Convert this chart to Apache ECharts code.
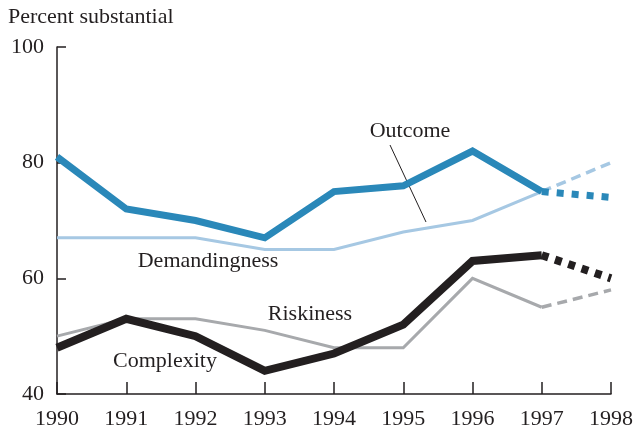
<!DOCTYPE html>
<html>
<head>
<meta charset="utf-8">
<script src="https://cdn.jsdelivr.net/npm/echarts@6/dist/echarts.min.js"></script>
<style>
  html, body { margin: 0; padding: 0; background: #fff; }
  #main { width: 636px; height: 430px; }
</style>
</head>
<body>
<div id="main"></div>
<script>
  // data
  var years = ['1990', '1991', '1992', '1993', '1994', '1995', '1996', '1997', '1998'];
  var outcome        = [81, 72, 70, 67, 75, 76, 82, 75, 74];
  var demandingness  = [67, 67, 67, 65, 65, 68, 70, 75, 80];
  var riskiness      = [50, 53, 53, 51, 48, 48, 60, 55, 58];
  var complexity     = [48, 53, 50, 44, 47, 52, 63, 64, 60];
  var yTicks = [40, 60, 80, 100];

  var FONT = 'Liberation Serif';
  var FS = 22;
  var INK = '#231f20';

  // 1990-1997 solid, 1997-1998 projected (dotted / dashed)
  function solidPart(arr) {
    return arr.map(function (v, i) { return i <= 7 ? v : null; });
  }
  function projPart(arr) {
    return arr.map(function (v, i) { return i >= 7 ? v : null; });
  }

  function line(name, data, color, width, dash, z) {
    return {
      name: name,
      type: 'line',
      data: data,
      symbol: 'none',
      z: z,
      lineStyle: { color: color, width: width, type: dash || 'solid', cap: 'butt', join: 'miter' },
      silent: true
    };
  }

  function label(text, x, y, align) {
    return {
      type: 'text', x: x, y: y,
      style: {
        text: text, font: FS + 'px "' + FONT + '"', fill: INK,
        align: align || 'center', verticalAlign: 'middle'
      }
    };
  }

  var chart = echarts.init(document.getElementById('main'), null, { renderer: 'canvas' });

  chart.setOption({
    animation: false,
    backgroundColor: '#fff',
    grid: { left: 57, right: 25, top: 47, bottom: 35 },
    xAxis: {
      type: 'category',
      data: years,
      boundaryGap: false,
      axisLine: { lineStyle: { color: INK, width: 1.5 } },
      axisTick: { inside: true, length: 12, lineStyle: { color: INK, width: 1.5 } },
      axisLabel: { fontFamily: FONT, fontSize: FS, color: INK, margin: 14 },
      splitLine: { show: false }
    },
    yAxis: {
      type: 'value',
      min: yTicks[0],
      max: yTicks[yTicks.length - 1],
      interval: 20,
      axisLine: { show: true, lineStyle: { color: INK, width: 1.5 } },
      axisTick: { show: true, inside: true, length: 9, lineStyle: { color: INK, width: 1.5 } },
      axisLabel: { fontFamily: FONT, fontSize: FS, color: INK, margin: 13 },
      splitLine: { show: false }
    },
    series: [
      line('Demandingness', solidPart(demandingness), '#a6c8e3', 3, null, 2),
      line('Demandingness proj', projPart(demandingness), '#a6c8e3', 3.5, [10, 6], 2),
      line('Riskiness', solidPart(riskiness), '#a7a9ac', 3, null, 2),
      line('Riskiness proj', projPart(riskiness), '#a7a9ac', 3.5, [10, 6], 2),
      line('Outcome', solidPart(outcome), '#2a88b9', 7, null, 3),
      line('Outcome proj', projPart(outcome), '#2a88b9', 7, [7, 8], 3),
      line('Complexity', solidPart(complexity), INK, 8, null, 4),
      line('Complexity proj', projPart(complexity), INK, 8, [7, 7], 4)
    ],
    graphic: [
      label('Percent substantial', 8, 17, 'left'),
      label('Outcome', 410, 131),
      { type: 'line', shape: { x1: 390, y1: 145, x2: 426, y2: 222 }, style: { stroke: INK, lineWidth: 1 } },
      label('Demandingness', 208, 261),
      label('Riskiness', 310, 314),
      label('Complexity', 165, 361)
    ]
  });
</script>
</body>
</html>
